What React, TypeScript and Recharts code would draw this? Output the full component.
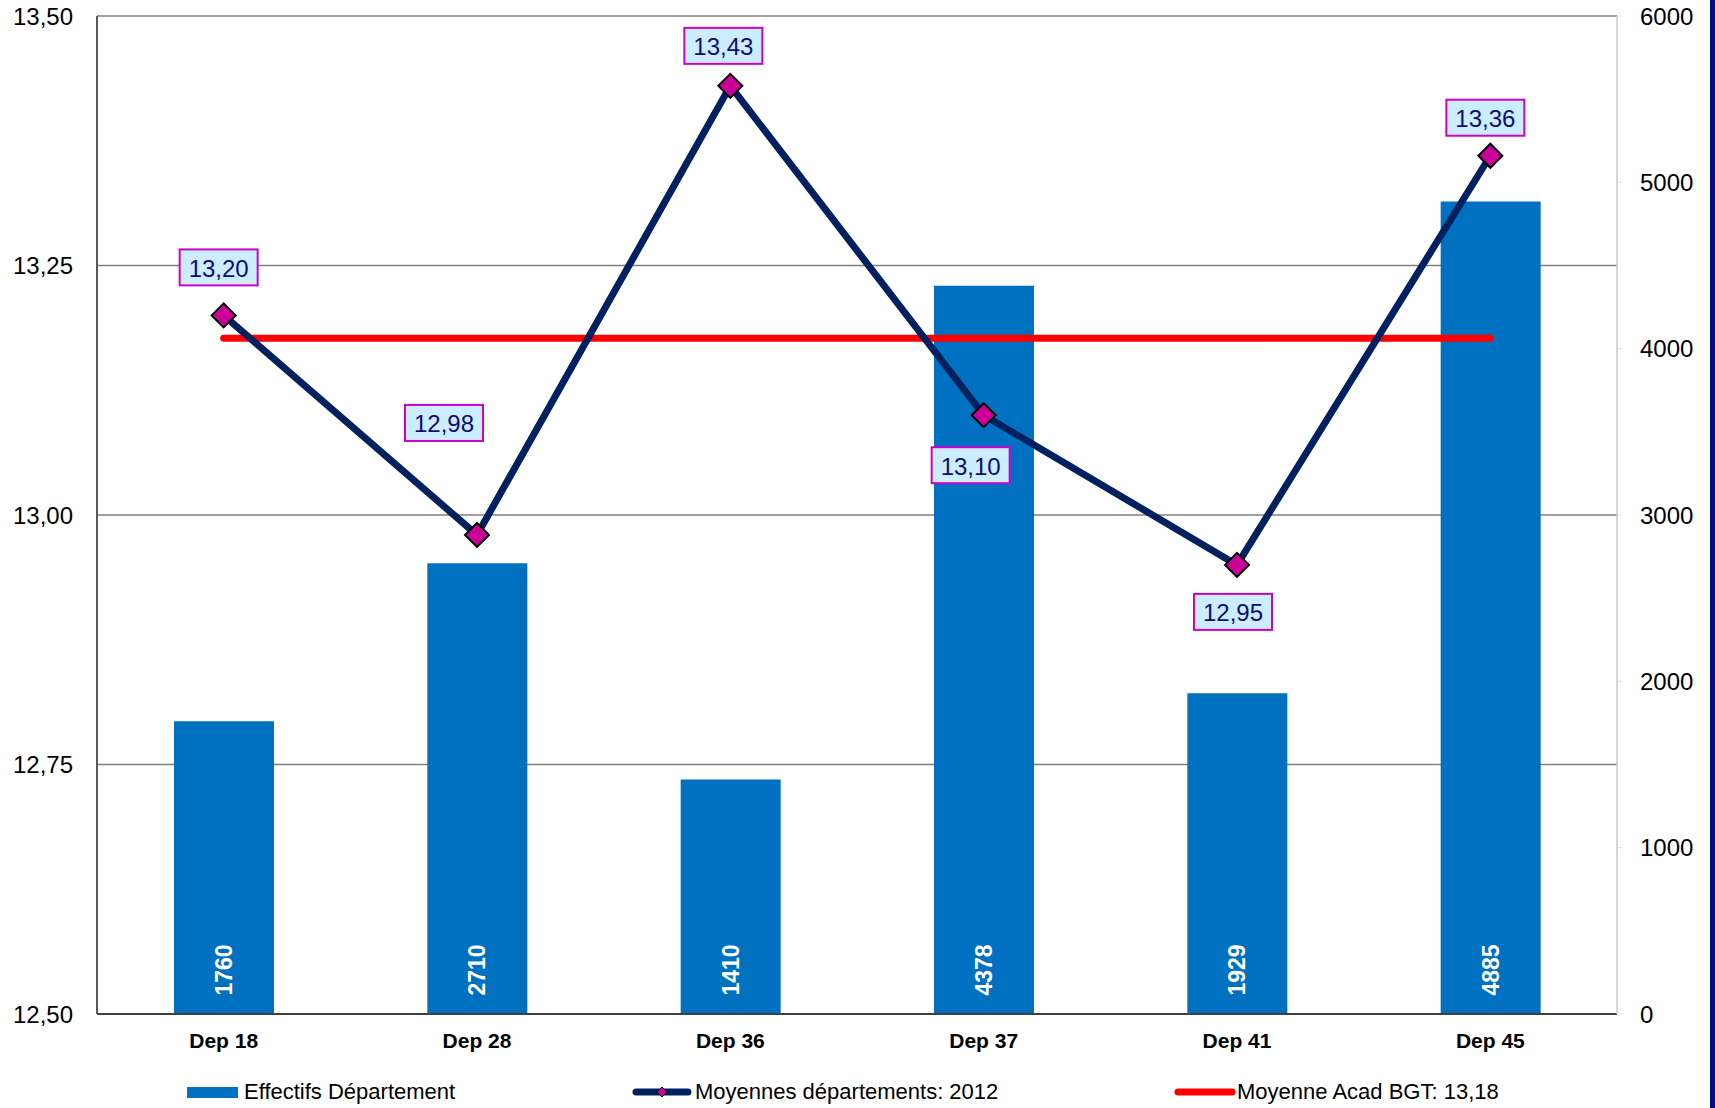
import React from 'react';
import { ComposedChart, Bar, Line, XAxis, YAxis, CartesianGrid, Legend, LabelList } from 'recharts';

const departements = ['Dep 18', 'Dep 28', 'Dep 36', 'Dep 37', 'Dep 41', 'Dep 45'];
const effectifs = [1760, 2710, 1410, 4378, 1929, 4885];
const moyennes2012 = [13.2, 12.98, 13.43, 13.1, 12.95, 13.36];
const moyenneAcad = 13.177; // shown as 13,18 in the legend
const leftTicks = [12.5, 12.75, 13, 13.25, 13.5];
const rightTicks = [0, 1000, 2000, 3000, 4000, 5000, 6000];

// where each value box sits relative to its point (dx, dy)
const boxOffsets = [[-5, -48], [-33, -112], [-7, -40], [-13, 50], [-4, 47], [-5, -38]];

const FONT = '"Liberation Sans", Arial, sans-serif';
const fmt = (v: number) => v.toFixed(2).replace('.', ',');

const data = departements.map((dep, i) => ({
  dep,
  effectif: effectifs[i],
  moyenne: moyennes2012[i],
  acad: moyenneAcad,
}));

const BarValue = (props: any) => {
  const { x, y, width, height, value } = props;
  const cx = x + width / 2;
  const cy = y + height - 44;
  return (
    <text x={cx} y={cy} transform={`rotate(-90 ${cx} ${cy})`} textAnchor="middle" dominantBaseline="central"
      fill="#fff" fontWeight="bold" fontSize={23} fontFamily={FONT}>{value}</text>
  );
};

const ValueBox = (props: any) => {
  const { x, y, value, index } = props;
  const [dx, dy] = boxOffsets[index];
  const cx = x + dx;
  const cy = y + dy;
  return (
    <g>
      <rect x={cx - 39} y={cy - 18} width={78} height={36} fill="#CCECFF" stroke="#CC00CC" strokeWidth={2} />
      <text x={cx} y={cy + 1} textAnchor="middle" dominantBaseline="central" fill="#0D0D73" fontSize={24} fontFamily={FONT}>
        {fmt(value)}
      </text>
    </g>
  );
};

const Diamond = (props: any) => {
  const { cx, cy, index } = props;
  const r = 12;
  return (
    <polygon key={index} points={`${cx},${cy - r} ${cx + r},${cy} ${cx},${cy + r} ${cx - r},${cy}`}
      fill="#CC0099" stroke="#000" strokeWidth={2} />
  );
};

const renderLegend = () => (
  <div style={{ position: 'relative', width: 1715, height: 44, fontFamily: FONT, fontSize: 22, color: '#000' }}>
    <div style={{ position: 'absolute', left: 187, top: 23, width: 51, height: 11, background: '#0070C0' }} />
    <span style={{ position: 'absolute', left: 244, top: 15, lineHeight: '26px', whiteSpace: 'nowrap' }}>Effectifs Département</span>
    <svg style={{ position: 'absolute', left: 632, top: 21 }} width={60} height={14}>
      <line x1={4} y1={7} x2={56} y2={7} stroke="#002060" strokeWidth={7} strokeLinecap="round" />
      <polygon points="30,2 35,7 30,12 25,7" fill="#CC0099" stroke="#000" strokeWidth={1} />
    </svg>
    <span style={{ position: 'absolute', left: 695, top: 15, lineHeight: '26px', whiteSpace: 'nowrap' }}>Moyennes départements: 2012</span>
    <svg style={{ position: 'absolute', left: 1174, top: 21 }} width={62} height={14}>
      <line x1={4} y1={7} x2={58} y2={7} stroke="#FF0000" strokeWidth={7} strokeLinecap="round" />
    </svg>
    <span style={{ position: 'absolute', left: 1237, top: 15, lineHeight: '26px', whiteSpace: 'nowrap' }}>Moyenne Acad BGT: 13,18</span>
  </div>
);

export default function App() {
  return (
    <div style={{ position: 'absolute', top: 0, left: 0, width: 1715, height: 1108, background: '#fff' }}>
      <ComposedChart width={1715} height={1108} data={data} margin={{ top: 16, right: 0, bottom: 0, left: 0 }}>
        <CartesianGrid yAxisId="left" vertical={false} stroke="#808080" strokeWidth={1.5} />
        <XAxis dataKey="dep" axisLine={{ stroke: '#404040', strokeWidth: 2 }} tickLine={false} tickSize={0} tickMargin={19}
          height={50} tick={{ fill: '#000', fontSize: 21, fontWeight: 'bold', fontFamily: FONT }} />
        <YAxis yAxisId="left" domain={[12.5, 13.5]} ticks={leftTicks} width={97} tickFormatter={fmt}
          axisLine={{ stroke: '#595959', strokeWidth: 2 }} tickLine={false} tickSize={0} tickMargin={24}
          tick={{ fill: '#000', fontSize: 24, fontFamily: FONT }} />
        <YAxis yAxisId="right" orientation="right" domain={[0, 6000]} ticks={rightTicks} width={98}
          axisLine={{ stroke: '#C8C8C8', strokeWidth: 1.5 }} tickLine={{ stroke: '#E0E0E0' }} tickSize={5} tickMargin={18}
          tick={{ fill: '#000', fontSize: 24, fontFamily: FONT }} />
        <Legend verticalAlign="bottom" content={renderLegend} wrapperStyle={{ left: 0, bottom: 0, width: 1715, height: 44 }} />
        <Bar yAxisId="right" dataKey="effectif" name="Effectifs Département" fill="#0070C0" barSize={100} isAnimationActive={false}>
          <LabelList dataKey="effectif" content={BarValue} />
        </Bar>
        <Line yAxisId="left" dataKey="acad" name="Moyenne Acad BGT: 13,18" stroke="#FF0000" strokeWidth={7}
          strokeLinecap="round" dot={false} activeDot={false} isAnimationActive={false} />
        <Line yAxisId="left" dataKey="moyenne" name="Moyennes départements: 2012" stroke="#002060" strokeWidth={7}
          dot={Diamond} activeDot={false} isAnimationActive={false}>
          <LabelList dataKey="moyenne" content={ValueBox} />
        </Line>
      </ComposedChart>
      <div style={{ position: 'absolute', top: 0, right: 0, width: 5, height: 1108, background: '#0A0A7A' }} />
    </div>
  );
}
